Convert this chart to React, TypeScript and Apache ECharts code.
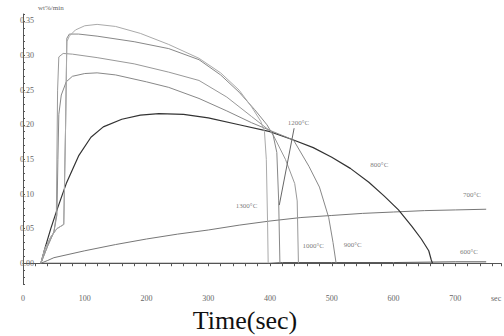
import React, { useEffect, useRef } from "react";
import * as echarts from "echarts";

// Time (sec) and rate (wt%/min)
const t1300 = [29, 35, 45, 55, 66, 69, 71, 75, 85, 100, 120, 150, 190, 236, 285, 320, 350, 370, 385, 391, 394, 396, 397];
const v1300 = [0, 0.02, 0.038, 0.05, 0.056, 0.2, 0.32, 0.328, 0.337, 0.343, 0.345, 0.342, 0.332, 0.316, 0.296, 0.275, 0.25, 0.226, 0.205, 0.19, 0.15, 0.06, 0];

const t1200 = [29, 35, 45, 55, 66, 69, 71, 75, 90, 120, 180, 236, 285, 320, 350, 375, 395, 405, 411, 414, 416];
const v1200 = [0, 0.02, 0.038, 0.05, 0.056, 0.2, 0.325, 0.331, 0.331, 0.328, 0.32, 0.31, 0.294, 0.272, 0.247, 0.222, 0.2, 0.185, 0.16, 0.09, 0];

const t1000 = [29, 40, 50, 54, 56, 58, 65, 80, 120, 180, 236, 285, 330, 370, 403, 425, 440, 444, 446];
const v1000 = [0, 0.025, 0.045, 0.07, 0.25, 0.298, 0.303, 0.302, 0.297, 0.288, 0.276, 0.264, 0.24, 0.212, 0.189, 0.15, 0.115, 0.09, 0];

const t900 = [29, 40, 50, 55, 56.5, 58, 62, 70, 80, 100, 120, 150, 200, 236, 285, 330, 370, 405, 438, 463, 480, 495, 502, 507];
const v900 = [0, 0.025, 0.045, 0.07, 0.15, 0.215, 0.243, 0.262, 0.27, 0.274, 0.275, 0.272, 0.262, 0.254, 0.238, 0.22, 0.203, 0.19, 0.178, 0.14, 0.11, 0.066, 0.03, 0];

const t800 = [29, 35, 45, 55, 70, 90, 110, 130, 160, 190, 220, 260, 300, 350, 400, 438, 470, 500, 530, 560, 585, 608, 630, 645, 657, 661, 663];
const v800 = [0, 0.02, 0.05, 0.077, 0.115, 0.155, 0.182, 0.197, 0.208, 0.214, 0.216, 0.215, 0.21, 0.2, 0.19, 0.178, 0.167, 0.153, 0.137, 0.117, 0.097, 0.077, 0.053, 0.035, 0.018, 0.005, 0];

const t700 = [29, 40, 50, 100, 150, 200, 250, 300, 350, 400, 450, 500, 550, 600, 650, 700, 750];
const v700 = [0, 0.004, 0.008, 0.018, 0.027, 0.035, 0.042, 0.048, 0.055, 0.061, 0.066, 0.069, 0.072, 0.074, 0.076, 0.077, 0.078];

const t600 = [29, 100, 200, 300, 400, 420, 500, 600, 700, 750];
const v600 = [0, 0, 0, 0, 0, 0.001, 0.001, 0.001, 0.002, 0.002];

const tempLabels = ["1300°C", "1200°C", "1000°C", "900°C", "800°C", "700°C", "600°C"];
const labelT = [362, 446, 470, 534, 577, 727, 722];
const labelV = [0.082, 0.202, 0.025, 0.026, 0.142, 0.098, 0.016];

const leaderT = [439, 415];
const leaderV = [0.195, 0.084];

const xTickLabels = [0, 100, 200, 300, 400, 500, 600, 700];
const yTickLabels = [0, 0.05, 0.1, 0.15, 0.2, 0.25, 0.3, 0.35];

const zip = (t: number[], v: number[]) => t.map((x, i) => [x, v[i]]);

const FONT = "Liberation Serif";

export default function App() {
  const ref = useRef<HTMLDivElement>(null);
  useEffect(() => {
    if (!ref.current) return;
    const chart = echarts.init(ref.current, null, { renderer: "svg" });
    const line = (name: string, t: number[], v: number[], color: string, w = 1) => ({
      name,
      type: "line",
      data: zip(t, v),
      showSymbol: false,
      symbol: "none",
      lineStyle: { color, width: w },
      silent: true,
    });
    chart.setOption({
      animation: false,
      backgroundColor: "#ffffff",
      grid: { left: 23, right: 0, top: 14, bottom: 52 },
      xAxis: {
        type: "value",
        min: 0,
        max: 774,
        interval: 20,
        axisLine: { lineStyle: { color: "#555", width: 1 } },
        axisTick: { length: 3, lineStyle: { color: "#555" } },
        splitLine: { show: false },
        axisLabel: {
          margin: 10,
          fontFamily: FONT,
          fontSize: 8,
          color: "#666",
          formatter: (v: number) => (xTickLabels.includes(Math.round(v)) ? String(Math.round(v)) : ""),
        },
      },
      yAxis: {
        type: "value",
        min: -0.03,
        max: 0.36,
        interval: 0.01,
        offset: 11,
        axisLine: { show: true, lineStyle: { color: "#555", width: 1 } },
        axisTick: { inside: true, length: 2, lineStyle: { color: "#555" } },
        splitLine: { show: false },
        axisLabel: {
          inside: true,
          margin: 8,
          fontFamily: FONT,
          fontSize: 8,
          color: "#666",
          formatter: (v: number) => {
            const k = Math.round(v * 100);
            return yTickLabels.some((y) => Math.round(y * 100) === k) ? v.toFixed(2) : "";
          },
        },
      },
      graphic: [
        { type: "text", left: 38, top: 4, style: { text: "wt%/min", font: `7px ${FONT}`, fill: "#666" } },
        { type: "text", left: 491, top: 294, style: { text: "sec", font: `8px ${FONT}`, fill: "#666" } },
        {
          type: "text",
          x: 245,
          y: 320,
          style: { text: "Time(sec)", font: `26px ${FONT}`, fill: "#111", align: "center", verticalAlign: "middle" },
        },
      ],
      series: [
        line("600°C", t600, v600, "#555"),
        line("700°C", t700, v700, "#777"),
        line("800°C", t800, v800, "#333", 1.2),
        line("900°C", t900, v900, "#888"),
        line("1000°C", t1000, v1000, "#999"),
        line("1200°C", t1200, v1200, "#888"),
        line("1300°C", t1300, v1300, "#aaa"),
        line("leader", leaderT, leaderV, "#666"),
        {
          type: "scatter",
          symbolSize: 0,
          silent: true,
          data: tempLabels.map((n, i) => ({ name: n, value: [labelT[i], labelV[i]] })),
          label: {
            show: true,
            position: "inside",
            formatter: "{b}",
            fontFamily: FONT,
            fontSize: 7,
            color: "#555",
          },
        },
      ],
    });
    return () => chart.dispose();
  }, []);
  return <div ref={ref} style={{ position: "absolute", left: 0, top: 0, width: 504, height: 336 }} />;
}
